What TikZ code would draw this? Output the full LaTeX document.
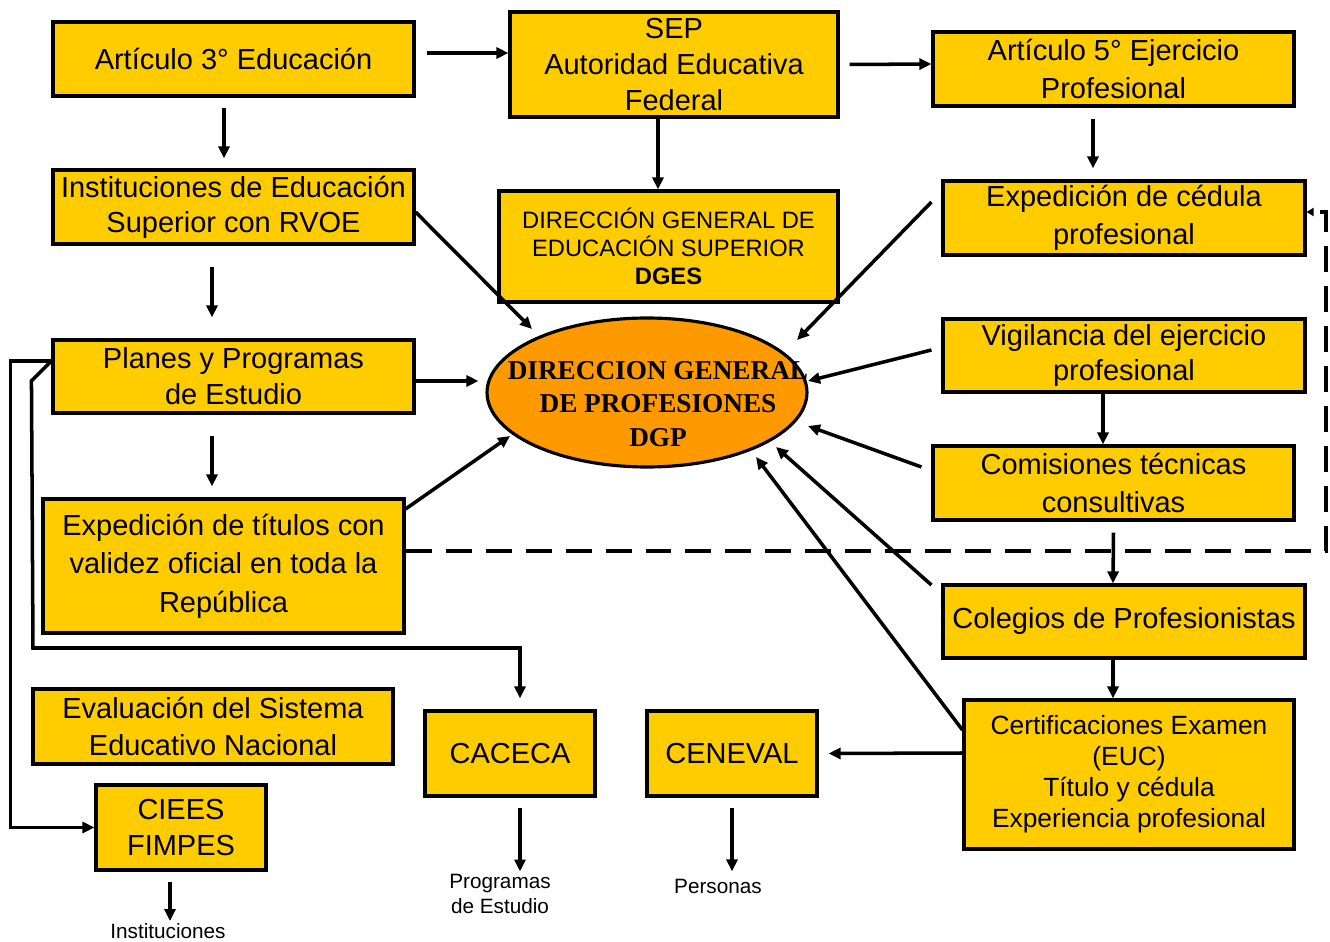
\documentclass[tikz,border=0pt]{standalone}
\usepackage{fontspec}
\setmainfont{Liberation Sans}
\newfontfamily\serifnegra{Liberation Serif}
\usepackage{xcolor}
\usepackage{tikz}
\usetikzlibrary{shapes.geometric,arrows.meta}
\definecolor{amarillo}{RGB}{255,204,0}
\definecolor{naranja}{RGB}{255,153,0}

\begin{document}
\begin{tikzpicture}[x=0.02cm,y=-0.02cm,
  caja/.style={draw=black,line width=1.8pt,fill=amarillo,inner sep=0pt,align=center,font=\fontsize{16.5}{21}\selectfont},
  elipse/.style={ellipse,draw=black,line width=1.8pt,fill=naranja,inner sep=0pt,minimum width=6.4cm,minimum height=2.98cm,font=\serifnegra\bfseries\fontsize{15.5}{19}\selectfont},
  nota/.style={inner sep=0pt,align=center,font=\fontsize{11.8}{14.7}\selectfont},
  flecha/.style={line width=2pt,-{Triangle[length=0.24cm,width=0.22cm]}},
  discontinua/.style={line width=2.2pt,dash pattern=on 0.52cm off 0.28cm,-{Triangle[length=0.14cm,width=0.16cm]}}]
\useasboundingbox (0,0) rectangle (1330,942);
\node at (233.5,59) (art3) [caja,minimum width=7.22cm,minimum height=1.48cm] {Artículo 3° Educación};
\node at (674,64.5) (sep) [caja,minimum width=6.56cm,minimum height=2.1cm,font=\fontsize{16.5}{20.4}\selectfont] {SEP\\Autoridad Educativa\\Federal};
\node at (1113.5,69) (art5) [caja,minimum width=7.22cm,minimum height=1.48cm,font=\fontsize{16.5}{21.5}\selectfont] {Artículo 5° Ejercicio\\Profesional};
\node at (233.5,207) (ies) [caja,minimum width=7.22cm,minimum height=1.48cm,font=\fontsize{16.5}{20}\selectfont] {Instituciones de Educación\\Superior con RVOE};
\node at (668.5,246.5) (dges) [caja,minimum width=6.78cm,minimum height=2.22cm,font=\fontsize{13.5}{16}\selectfont] {DIRECCIÓN GENERAL DE\\EDUCACIÓN SUPERIOR\\\textbf{DGES}};
\node at (1124,218) (cedula) [caja,minimum width=7.24cm,minimum height=1.48cm,font=\fontsize{16.5}{22}\selectfont] {Expedición de cédula\\profesional};
\node at (233.5,376.5) (planes) [caja,minimum width=7.22cm,minimum height=1.46cm,font=\fontsize{16.5}{20.4}\selectfont] {Planes y Programas\\de Estudio};
\node at (647,392.5) (dgp) [elipse] {\raisebox{-0.4cm}[0pt][0pt]{\makebox[0pt]{\hspace{0.44cm}\begin{tabular}{@{}c@{}}DIRECCION GENERAL\\DE PROFESIONES\\DGP\end{tabular}}}};
\node at (1124,355.5) (vigila) [caja,minimum width=7.24cm,minimum height=1.46cm,font=\fontsize{16.5}{20.4}\selectfont] {Vigilancia del ejercicio\\profesional};
\node at (1113.5,483) (comis) [caja,minimum width=7.22cm,minimum height=1.48cm,font=\fontsize{16.5}{22}\selectfont] {Comisiones técnicas\\consultivas};
\node at (223.5,566) (titulos) [caja,minimum width=7.22cm,minimum height=2.68cm,font=\fontsize{16.5}{22}\selectfont] {Expedición de títulos con\\validez oficial en toda la\\República};
\node at (1124,621.5) (colegios) [caja,minimum width=7.24cm,minimum height=1.46cm] {Colegios de Profesionistas};
\node at (213,726.5) (evalua) [caja,minimum width=7.2cm,minimum height=1.5cm] {Evaluación del Sistema\\Educativo Nacional};
\node at (510,753.5) (caceca) [caja,minimum width=3.4cm,minimum height=1.7cm] {CACECA};
\node at (732,753.5) (ceneval) [caja,minimum width=3.4cm,minimum height=1.7cm] {CENEVAL};
\node at (1129,774.5) (certif) [caja,minimum width=6.6cm,minimum height=2.98cm,font=\fontsize{15}{17.6}\selectfont] {Certificaciones Examen\\(EUC)\\Título y cédula\\Experiencia profesional};
\node at (181,827.5) (ciees) [caja,minimum width=3.4cm,minimum height=1.7cm,font=\fontsize{16.5}{20.4}\selectfont] {CIEES\\FIMPES};
\node at (500,894) (progs) [nota] {Programas\\de Estudio};
\node at (718,886) (personas) [nota] {Personas};
\node at (168,931) (inst) [nota] {Instituciones};
\draw[flecha] ([shift={(11,-6)}]art3.east) -- ([shift={(0,-11.5)}]sep.west);
\draw[flecha] ([shift={(10,0)}]sep.east) -- ([shift={(0,-5)}]art5.west);
\draw[flecha] ([shift={(-9.5,10)}]art3.south) -- ([shift={(-9.5,-10)}]ies.north);
\draw[flecha] ([shift={(-16,0)}]sep.south) -- ([shift={(-10.5,0)}]dges.north);
\draw[flecha] ([shift={(-20.5,11)}]art5.south) -- ([shift={(-31,-11)}]cedula.north);
\draw[flecha] ([shift={(-21.5,21)}]ies.south) -- ([shift={(-21.5,-21)}]planes.north);
\draw[flecha] ([shift={(-21.5,21)}]planes.south) -- ([shift={(-11.5,-11)}]titulos.north);
\draw[flecha] ([shift={(0,5)}]ies.east) -- ([shift={(-115,-63.5)}]dgp.center);
\draw[flecha] ([shift={(0,4.5)}]planes.east) -- ([shift={(-7,-11.5)}]dgp.west);
\draw[flecha] ([shift={(0,-57)}]titulos.east) -- ([shift={(-137,43.5)}]dgp.center);
\draw[flecha] ([shift={(-10,-16)}]cedula.west) -- ([shift={(150,-52.5)}]dgp.center);
\draw[flecha] ([shift={(-10,-5.5)}]vigila.west) -- ([shift={(161,-11.5)}]dgp.center);
\draw[flecha] ([shift={(-21,0)}]vigila.south) -- ([shift={(-10.5,0)}]comis.north);
\draw[flecha] ([shift={(-10,-16)}]comis.west) -- ([shift={(161,33.5)}]dgp.center);
\draw[discontinua] ([shift={(0,-15)}]titulos.east) -- (1326,551) |- ([shift={(0,-6)}]cedula.east);
\draw[flecha] ([shift={(0,11)}]comis.south) -- ([shift={(-11,0)}]colegios.north);
\draw[flecha] ([shift={(-10,-36.5)}]colegios.west) -- ([shift={(129,54.5)}]dgp.center);
\draw[flecha] ([shift={(-11,0)}]colegios.south) -- ([shift={(-16,0)}]certif.north);
\draw[flecha] ([shift={(0,-44.5)}]certif.west) -- ([shift={(109,64.5)}]dgp.center);
\draw[flecha] ([shift={(0,-21.5)}]certif.west) -- ([shift={(10,0)}]ceneval.east);
\draw[flecha] ([shift={(10,10)}]caceca.south) -- ([shift={(20,-2)}]progs.north);
\draw[flecha] ([shift={(0,10)}]ceneval.south) -- ([shift={(14,-7)}]personas.north);
\draw[flecha] ([shift={(-11,10)}]ciees.south) -- ([shift={(2,-2)}]inst.north);
\draw[flecha] ([shift={(0,-15.5)}]planes.west) -- ++(-41,0) |- (ciees.west);
\draw[flecha] ([shift={(0,-15.5)}]planes.west) -- ++(-20,20) -- (33,648) -| ([shift={(10,-11)}]caceca.north);
\end{tikzpicture}
\end{document}
